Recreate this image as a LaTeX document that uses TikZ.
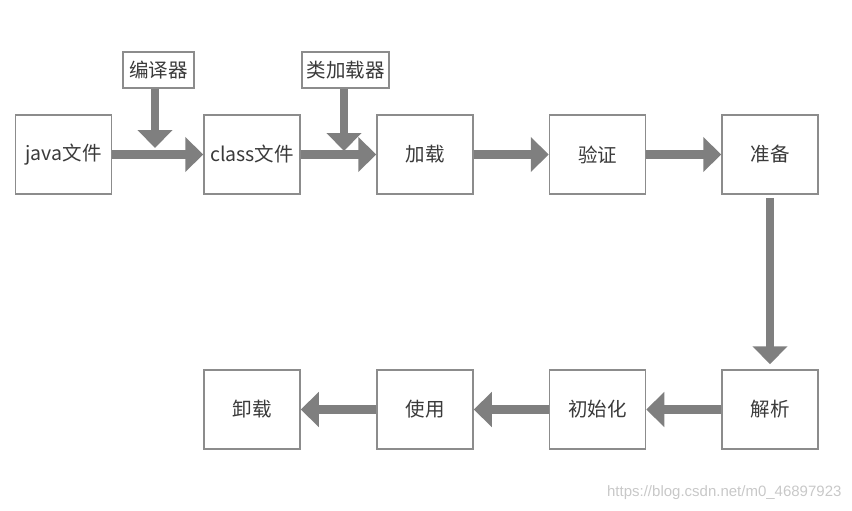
\documentclass[tikz,border=0pt]{standalone}
\usepackage{fontspec}
\setmainfont{Noto Sans CJK SC}
\newfontfamily\markfont{Liberation Sans}
\usepackage{xcolor}
\usepackage{tikz}
\usetikzlibrary{arrows.meta}
\definecolor{JVMArrow}{HTML}{7F7F7F}
\definecolor{JVMLine}{HTML}{8C8C8C}
\definecolor{JVMInk}{HTML}{3A3A3A}
\definecolor{JVMMark}{HTML}{C8C8C8}

\begin{document}
\begin{tikzpicture}[
  x=1pt,y=-1pt,
  font=\fontsize{19.5pt}{22pt}\selectfont,
  phase/.style={rectangle,draw=JVMLine,line width=1.5pt,fill=white,text=JVMInk,minimum width=96pt,minimum height=79pt,inner sep=0pt},
  tool/.style={rectangle,draw=JVMLine,line width=1.5pt,fill=white,text=JVMInk,minimum height=36pt,inner sep=0pt},
  flow/.style={-{Triangle[width=34pt,length=18pt]},line width=8.5pt,draw=JVMArrow}
]
\useasboundingbox (0,0) rectangle (852,511);

\node[phase] (java) at (63.5,154.5) {java文件};
\node[phase] (class) at (252,154.5) {class文件};
\node[phase] (load) at (425,154.5) {加载};
\node[phase] (verify) at (597.5,154.5) {验证};
\node[phase] (prepare) at (770,154.5) {准备};
\node[phase] (resolve) at (770,409.5) {解析};
\node[phase] (init) at (597.5,409.5) {初始化};
\node[phase] (use) at (425,409.5) {使用};
\node[phase] (unload) at (252,409.5) {卸载};

\node[tool,minimum width=71pt] (compiler) at (158.5,70) {编译器};
\node[tool,minimum width=87pt] (loader) at (345.5,70) {类加载器};

\coordinate (compilerTip) at (155,148);
\coordinate (loaderTip) at (344,151);

\draw[flow] (java.east) -- (class.west);
\draw[flow] (class.east) -- (load.west);
\draw[flow] (load.east) -- (verify.west);
\draw[flow] (verify.east) -- (prepare.west);
\draw[flow,shorten <=3pt,shorten >=5pt] (prepare.south) -- (resolve.north);
\draw[flow] (resolve.west) -- (init.east);
\draw[flow] (init.west) -- (use.east);
\draw[flow] (use.west) -- (unload.east);
\draw[flow] (compiler.south -| compilerTip) -- (compilerTip);
\draw[flow] (loader.south -| loaderTip) -- (loaderTip);

\node[font=\markfont\fontsize{15pt}{17pt}\selectfont,text=JVMMark,anchor=east] (mark) at (845,493) {https://blog.csdn.net/m0\_46897923};
\end{tikzpicture}
\end{document}
